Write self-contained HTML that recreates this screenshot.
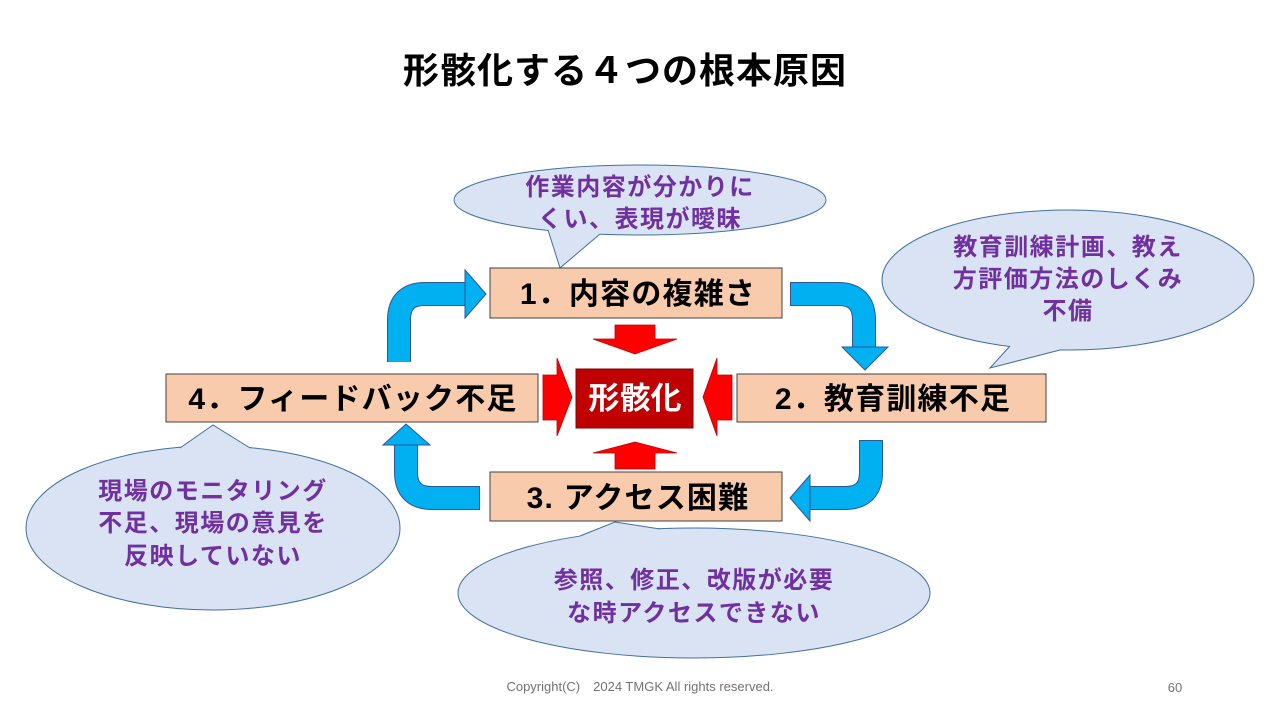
<!DOCTYPE html>
<html><head><meta charset="utf-8"><style>
html,body{margin:0;padding:0;background:#fff;}
svg{display:block;}
text{font-family:"Liberation Sans","Noto Sans CJK JP",sans-serif;}
</style></head><body>
<svg width="1280" height="720" viewBox="0 0 1280 720" xmlns="http://www.w3.org/2000/svg">
<text x="625" y="83" font-size="36" font-weight="bold" text-anchor="middle" fill="#000" letter-spacing="1">形骸化する４つの根本原因</text>

<!-- callouts -->
<g fill="#dae3f3" stroke="#41719c" stroke-width="1">
<ellipse cx="640" cy="200" rx="186" ry="35"/>
<ellipse cx="1068" cy="280" rx="186" ry="70"/>
<ellipse cx="213" cy="528" rx="187" ry="82"/>
<ellipse cx="694" cy="593" rx="236" ry="65"/>
</g>
<g fill="#dae3f3" stroke="none">
<polygon points="548,222 600,222 600,234 560,268 548,230"/>
<polygon points="1010,338 1060,338 1060,350 990,368 1010,346"/>
<polygon points="180,455 250,455 250,448 213,425 180,448"/>
<polygon points="580,545 660,545 660,529 615,522 580,536"/>
</g>
<g fill="none" stroke="#41719c" stroke-width="1">
<polyline points="548,230 560,268 600,234"/>
<polyline points="1010,346 990,368 1060,350"/>
<polyline points="180,448 213,425 250,448"/>
<polyline points="580,536 615,522 660,529"/>
</g>
<g font-size="24" font-weight="bold" fill="#7030a0" text-anchor="middle" letter-spacing="1.5">
<text x="640" y="195">作業内容が分かりに</text>
<text x="640" y="227">くい、表現が曖昧</text>
<text x="1068" y="255">教育訓練計画、教え</text>
<text x="1068" y="287">方評価方法のしくみ</text>
<text x="1068" y="319">不備</text>
<text x="213" y="499">現場のモニタリング</text>
<text x="213" y="531">不足、現場の意見を</text>
<text x="213" y="564">反映していない</text>
<text x="694" y="588">参照、修正、改版が必要</text>
<text x="694" y="621">な時アクセスできない</text>
</g>

<!-- blue arrows -->
<g fill="none" stroke-linejoin="round">
<g stroke="#2f5597" stroke-width="24">
<path d="M399,362 V320 Q399,294 425,294 H466"/>
<path d="M790,294 H838 Q864,294 864,320 V348"/>
<path d="M871,440 V472 Q871,498 845,498 H809"/>
<path d="M480,498 H432 Q406,498 406,472 V444"/>
</g>
<g stroke="#00b0f0" stroke-width="22">
<path d="M399,362 V320 Q399,294 425,294 H467"/>
<path d="M791,294 H838 Q864,294 864,320 V349"/>
<path d="M871,441 V472 Q871,498 845,498 H808"/>
<path d="M479,498 H432 Q406,498 406,472 V443"/>
</g>
</g>
<g fill="#00b0f0" stroke="#2f5597" stroke-width="1">
<polygon points="465,270 486,294 465,318"/>
<polygon points="842,347 888,347 865,370"/>
<polygon points="810,475 790,498 810,521"/>
<polygon points="383,445 430,445 406,424"/>
</g>

<!-- boxes -->
<g fill="#f8cbad" stroke="#404040" stroke-width="1">
<rect x="490" y="268" width="292" height="50"/>
<rect x="737" y="374" width="309" height="48"/>
<rect x="490" y="472" width="292" height="49"/>
<rect x="166" y="374" width="372" height="48"/>
</g>
<g font-size="30" font-weight="bold" fill="#000" text-anchor="middle" letter-spacing="1.2">
<text x="638" y="304">1．内容の複雑さ</text>
<text x="893" y="409">2．教育訓練不足</text>
<text x="638" y="508">3.  アクセス困難</text>
<text x="353" y="409">4．フィードバック不足</text>
</g>

<!-- red arrows -->
<g fill="#ff0000" stroke="#c00000" stroke-width="0.8">
<polygon points="615,325 655,325 655,339 677,339 635,354 593,339 615,339"/>
<polygon points="615,469 655,469 655,453 677,453 635,442 593,453 615,453"/>
<polygon points="543,375 557,375 557,358 572,397 557,436 557,420 543,420"/>
<polygon points="732,375 717,375 717,358 703,397 717,436 717,420 732,420"/>
</g>
<rect x="576" y="369" width="117" height="59" fill="#c00000" stroke="#7f0000" stroke-width="1"/>
<text x="635" y="409" font-size="31" font-weight="bold" fill="#fff" text-anchor="middle">形骸化</text>

<text x="640" y="691" font-size="13" fill="#767171" text-anchor="middle">Copyright(C)　2024 TMGK All rights reserved.</text>
<text x="1175" y="692" font-size="13" fill="#767171" text-anchor="middle">60</text>
</svg>
</body></html>
